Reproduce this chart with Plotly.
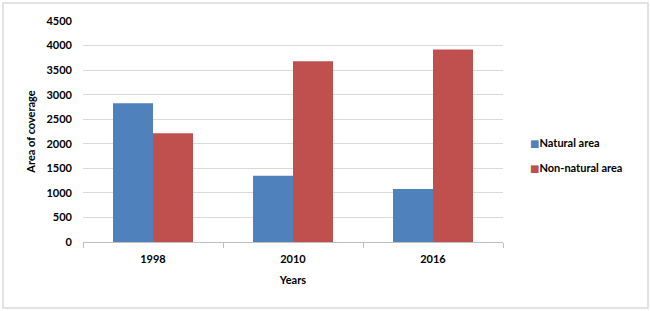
import plotly.graph_objects as go

years = ["1998", "2010", "2016"]
natural = [2825, 1350, 1080]
non_natural = [2215, 3680, 3920]
series_names = ["Natural area", "Non-natural area"]
colors = ["#4f81bd", "#c0504d"]
y_ticks = [0, 500, 1000, 1500, 2000, 2500, 3000, 3500, 4000, 4500]

FONT = "Lato"
W, H = 650, 311
L, R, T, B = 83, 147, 21, 69
pw, ph = W - L - R, H - T - B

fig = go.Figure()
for name, vals, col in zip(series_names, [natural, non_natural], colors):
    fig.add_trace(go.Bar(x=years, y=vals, name=name, marker_color=col,
                         marker_line_width=0, showlegend=False))
for i, (name, col) in enumerate(zip(series_names, colors)):
    fig.add_trace(go.Scatter(
        x=[None], y=[None], mode="markers", legendgroup=f"g{i}",
        name=f"<span style='font-family:DejaVu Sans;font-size:10px;color:{col}'>■</span><b>{name}</b>",
        marker=dict(symbol="square", size=1, color="rgba(0,0,0,0)")))

def px_x(x):
    return (x - L) / pw

def px_y(y):
    return (H - B - y) / ph

fig.add_shape(type="rect", xref="paper", yref="paper",
              x0=px_x(3), x1=px_x(648), y0=px_y(308), y1=px_y(3),
              line=dict(color="#d9d9d9", width=1.5), fillcolor="rgba(0,0,0,0)")

fig.update_layout(
    width=W, height=H,
    margin=dict(l=L, r=R, t=T, b=B),
    paper_bgcolor="white", plot_bgcolor="white",
    barmode="group", bargap=0.4286, bargroupgap=0,
    font=dict(family=FONT, size=11, color="#000000"),
    legend=dict(x=px_x(490), y=px_y(128), xanchor="left", yanchor="top",
                font=dict(family=FONT, size=11, color="#000"),
                traceorder="grouped", tracegroupgap=6,
                itemwidth=30, bgcolor="rgba(0,0,0,0)"),
    xaxis=dict(type="category", showgrid=False, showline=True,
               linecolor="#bfbfbf", linewidth=1,
               ticks="outside", tickson="boundaries", ticklen=5,
               tickcolor="#bfbfbf", ticklabelstandoff=7,
               tickvals=years, ticktext=[f"<b>{y}</b>" for y in years],
               tickfont=dict(family=FONT, size=11, color="#000"),
               title=dict(text="<b>Years</b>", standoff=12,
                          font=dict(family=FONT, size=11, color="#000"))),
    yaxis=dict(range=[0, 4500], tickvals=y_ticks,
               ticktext=[f"<b>{v}</b>" for v in y_ticks],
               showgrid=True, gridcolor="#d9d9d9", gridwidth=1,
               showline=False, zeroline=False, ticks="",
               ticklabelstandoff=10,
               tickfont=dict(family=FONT, size=11, color="#000"),
               title=dict(text="<b>Area of coverage</b>", standoff=8,
                          font=dict(family=FONT, size=11, color="#000"))),
)

fig.write_html("out.html", config={"displayModeBar": False},
               post_script="document.body.style.margin='0';")
